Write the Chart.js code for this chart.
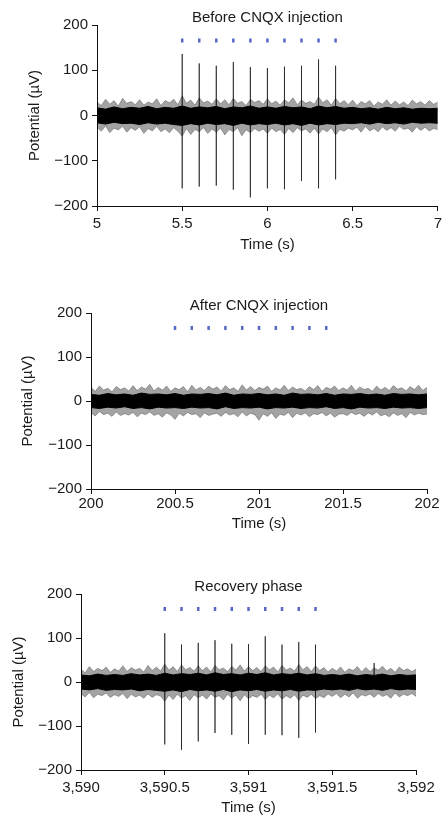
<!DOCTYPE html>
<html>
<head>
<meta charset="utf-8">
<script src="https://cdn.jsdelivr.net/npm/chart.js@4"></script>
<style>
  body { margin: 0; background: #fff; }
  #wrap { position: relative; width: 446px; height: 825px; background: #fff; }
  canvas { position: absolute; left: 0; }
</style>
</head>
<body>
<div id="wrap">
  <canvas id="before_chart" width="446" height="262" style="top:0px"></canvas>
  <canvas id="after_chart" width="446" height="245" style="top:290px"></canvas>
  <canvas id="recovery_chart" width="446" height="260" style="top:560px"></canvas>
</div>
<script>
// sample positions (s, from the start of each 2 s window) of the noise envelopes
var fringeOffsets = [0, 0.025, 0.05, 0.075, 0.1, 0.125, 0.15, 0.175, 0.2, 0.225, 0.25, 0.275, 0.3, 0.325, 0.35, 0.375, 0.4, 0.425, 0.45, 0.475,
                     0.5, 0.525, 0.55, 0.575, 0.6, 0.625, 0.65, 0.675, 0.7, 0.725, 0.75, 0.775, 0.8, 0.825, 0.85, 0.875, 0.9, 0.925, 0.95, 0.975,
                     1, 1.025, 1.05, 1.075, 1.1, 1.125, 1.15, 1.175, 1.2, 1.225, 1.25, 1.275, 1.3, 1.325, 1.35, 1.375, 1.4, 1.425, 1.45, 1.475,
                     1.5, 1.525, 1.55, 1.575, 1.6, 1.625, 1.65, 1.675, 1.7, 1.725, 1.75, 1.775, 1.8, 1.825, 1.85, 1.875, 1.9, 1.925, 1.95, 1.975, 2];
var coreOffsets = [0, 0.05, 0.1, 0.15, 0.2, 0.25, 0.3, 0.35, 0.4, 0.45, 0.5, 0.55, 0.6, 0.65, 0.7, 0.75, 0.8, 0.85, 0.9, 0.95,
                   1, 1.05, 1.1, 1.15, 1.2, 1.25, 1.3, 1.35, 1.4, 1.45, 1.5, 1.55, 1.6, 1.65, 1.7, 1.75, 1.8, 1.85, 1.9, 1.95, 2];

var yTicks = [-200, -100, 0, 100, 200];

// --- Before CNQX injection ---
var startBefore = 5;
var fringeHiBefore = [30, 22, 36, 25, 33, 21, 38, 27, 31, 24,
                      35, 23, 30, 26, 37, 22, 33, 28, 36, 24,
                      44, 27, 34, 23, 39, 28, 32, 25, 37, 26,
                      35, 24, 38, 27, 31, 22, 36, 29, 33, 25,
                      37, 26, 32, 23, 35, 28, 39, 24, 34, 27,
                      31, 25, 41, 28, 35, 23, 38, 26, 33, 24,
                      34, 22, 31, 26, 33, 21, 30, 25, 35, 23,
                      32, 24, 30, 22, 34, 26, 31, 23, 33, 25, 30];
var fringeLoBefore = [-26, -35, -23, -38, -28, -32, -24, -37, -27, -33,
                      -25, -40, -29, -34, -24, -36, -30, -38, -27, -35,
                      -46, -29, -42, -31, -36, -27, -40, -30, -37, -28,
                      -43, -31, -36, -27, -45, -32, -38, -29, -35, -30,
                      -40, -28, -36, -31, -42, -29, -38, -27, -34, -30,
                      -39, -28, -41, -30, -36, -27, -43, -31, -35, -28,
                      -32, -26, -37, -24, -34, -29, -36, -25, -33, -27,
                      -35, -24, -31, -28, -37, -25, -33, -26, -34, -29, -31];
var coreHiBefore = [17, 14, 19, 15, 18, 16, 20, 15, 18, 16, 21, 16, 19, 17, 20, 15, 19, 17, 21, 16,
                    19, 16, 20, 17, 19, 15, 21, 17, 20, 16, 18, 15, 17, 14, 18, 15, 17, 14, 16, 15, 16];
var coreLoBefore = [-16, -19, -15, -18, -17, -20, -16, -19, -17, -20, -22, -18, -21, -17, -20, -18, -22, -17, -21, -18,
                    -20, -17, -21, -18, -22, -17, -21, -18, -20, -17, -18, -16, -19, -15, -18, -16, -19, -15, -17, -16, -17];
var spikeTimesBefore = [5.5, 5.6, 5.7, 5.8, 5.9, 6.0, 6.1, 6.2, 6.3, 6.4];
var spikeTopBefore = [136, 115, 110, 118, 107, 105, 108, 110, 124, 110];
var spikeBottomBefore = [-161, -157, -155, -164, -181, -161, -163, -145, -161, -141];
var stimTimesBefore = [5.5, 5.6, 5.7, 5.8, 5.9, 6.0, 6.1, 6.2, 6.3, 6.4];

// --- After CNQX injection ---
var startAfter = 200;
var fringeHiAfter = [31, 22, 34, 25, 29, 21, 33, 26, 30, 23,
                     35, 24, 32, 27, 38, 23, 31, 25, 34, 22,
                     30, 26, 33, 21, 36, 25, 31, 24, 34, 27,
                     32, 23, 35, 26, 30, 22, 37, 25, 33, 24,
                     31, 27, 34, 22, 30, 25, 36, 24, 32, 26,
                     29, 23, 33, 26, 35, 22, 31, 27, 34, 24,
                     30, 25, 36, 23, 32, 26, 29, 22, 34, 25,
                     31, 24, 35, 27, 30, 23, 33, 26, 36, 24, 31];
var fringeLoAfter = [-27, -34, -24, -31, -28, -35, -25, -33, -29, -32,
                     -26, -36, -28, -31, -25, -33, -29, -37, -27, -32,
                     -42, -28, -34, -26, -31, -29, -38, -27, -33, -30,
                     -28, -35, -26, -32, -29, -36, -25, -34, -28, -31,
                     -44, -29, -35, -27, -40, -30, -33, -26, -38, -28,
                     -32, -27, -36, -29, -31, -26, -34, -28, -37, -30,
                     -29, -33, -26, -31, -28, -35, -27, -32, -25, -34,
                     -30, -36, -27, -33, -29, -38, -26, -32, -28, -31, -30];
var coreHiAfter = [15, 13, 17, 14, 16, 13, 18, 15, 16, 14, 17, 13, 16, 15, 17, 14, 18, 13, 16, 15,
                   17, 14, 16, 13, 18, 15, 16, 14, 17, 13, 16, 15, 17, 14, 16, 13, 17, 15, 16, 14, 16];
var coreLoAfter = [-15, -17, -14, -16, -13, -17, -15, -18, -14, -16, -15, -17, -14, -16, -15, -18, -13, -17, -15, -16,
                   -14, -18, -15, -16, -14, -17, -15, -16, -13, -17, -15, -18, -14, -16, -15, -17, -14, -16, -15, -17, -15];
var spikeTimesAfter = [];
var spikeTopAfter = [];
var spikeBottomAfter = [];
var stimTimesAfter = [200.5, 200.6, 200.7, 200.8, 200.9, 201.0, 201.1, 201.2, 201.3, 201.4];

// --- Recovery phase ---
var startRecovery = 3590;
var fringeHiRecovery = [29, 21, 35, 24, 31, 26, 34, 22, 30, 25,
                        37, 24, 33, 27, 31, 23, 38, 26, 34, 25,
                        41, 27, 35, 24, 39, 28, 33, 25, 37, 26,
                        34, 23, 38, 28, 32, 24, 36, 27, 39, 25,
                        35, 26, 33, 24, 37, 28, 34, 23, 38, 27,
                        32, 25, 40, 28, 35, 24, 37, 26, 33, 23,
                        31, 25, 34, 22, 30, 26, 35, 23, 33, 24,
                        32, 27, 36, 25, 31, 22, 34, 26, 30, 24, 29];
var fringeLoRecovery = [-27, -34, -24, -36, -28, -31, -25, -35, -29, -33,
                        -26, -38, -28, -34, -30, -37, -27, -35, -29, -32,
                        -44, -30, -40, -28, -37, -31, -42, -29, -36, -30,
                        -39, -27, -35, -31, -41, -28, -37, -30, -43, -29,
                        -38, -31, -35, -28, -40, -30, -36, -27, -39, -31,
                        -37, -29, -42, -30, -35, -28, -38, -31, -36, -27,
                        -33, -26, -36, -28, -34, -25, -37, -29, -32, -27,
                        -35, -26, -33, -29, -37, -25, -34, -28, -31, -26, -33];
var coreHiRecovery = [16, 14, 18, 15, 17, 15, 19, 16, 18, 15, 20, 16, 19, 17, 20, 16, 21, 17, 19, 16,
                      20, 17, 21, 16, 19, 17, 20, 16, 19, 15, 17, 15, 18, 14, 17, 15, 18, 14, 17, 15, 16];
var coreLoRecovery = [-16, -18, -15, -19, -17, -18, -16, -20, -17, -19, -21, -18, -22, -17, -20, -18, -21, -17, -22, -18,
                      -20, -17, -21, -18, -20, -17, -21, -18, -19, -16, -18, -16, -19, -15, -18, -16, -19, -15, -18, -16, -17];
var spikeTimesRecovery = [3590.5, 3590.6, 3590.7, 3590.8, 3590.9, 3591.0, 3591.1, 3591.2, 3591.3, 3591.4, 3591.75];
var spikeTopRecovery = [111, 85, 89, 95, 87, 86, 104, 85, 91, 85, 43];
var spikeBottomRecovery = [-142, -154, -135, -116, -120, -141, -120, -121, -127, -115, -12];
var stimTimesRecovery = [3590.5, 3590.6, 3590.7, 3590.8, 3590.9, 3591.0, 3591.1, 3591.2, 3591.3, 3591.4];

var stimLevel = 166;

Chart.defaults.font.family = "'Liberation Sans', Arial, Helvetica, sans-serif";
Chart.defaults.font.size = 15;
Chart.defaults.color = '#1a1a1a';

var panelTitle = {
    id: 'panelTitle',
    afterDraw: function(chart, args, opts) {
        var ctx = chart.ctx;
        var area = chart.chartArea;
        ctx.save();
        ctx.font = "15px 'Liberation Sans', Arial, Helvetica, sans-serif";
        ctx.fillStyle = '#1a1a1a';
        ctx.textAlign = 'center';
        ctx.textBaseline = 'middle';
        ctx.fillText(opts.text, (area.left + area.right) / 2, area.top - opts.gap);
        ctx.restore();
    }
};

function toPoints(start, offsets, values) {
    return values.map(function(v, i) { return {x: start + offsets[i], y: v}; });
}

function spikePoints(times, tops, bottoms) {
    var pts = [];
    for (var i = 0; i < times.length; i++) {
        pts.push({x: times[i], y: tops[i]});
        pts.push({x: times[i], y: bottoms[i]});
        pts.push({x: times[i], y: null});
    }
    return pts;
}

function fmtY(v) {
    return v < 0 ? '\u2212' + (-v) : String(v);
}

function makePanel(id, p) {
    var ctx = document.getElementById(id).getContext('2d');
    return new Chart(ctx, {
        type: 'line',
        data: {
            datasets: [{
                label: 'stimulus',
                data: p.stim.map(function(t) { return {x: t, y: stimLevel}; }),
                showLine: false,
                pointStyle: 'line',
                rotation: 90,
                pointRadius: 2,
                pointBorderWidth: 2.5,
                pointBorderColor: '#5566c4',
                borderColor: '#5566c4'
            }, {
                label: 'spikes',
                data: spikePoints(p.spikeTimes, p.spikeTop, p.spikeBottom),
                borderColor: 'rgba(0, 0, 0, 0.45)',
                borderWidth: 1,
                pointRadius: 0,
                spanGaps: false
            }, {
                label: 'core hi',
                data: toPoints(p.start, coreOffsets, p.coreHi),
                borderColor: '#000',
                borderWidth: 1,
                backgroundColor: '#000',
                pointRadius: 0,
                fill: '+1'
            }, {
                label: 'core lo',
                data: toPoints(p.start, coreOffsets, p.coreLo),
                borderColor: '#000',
                borderWidth: 1,
                pointRadius: 0,
                fill: false
            }, {
                label: 'fringe hi',
                data: toPoints(p.start, fringeOffsets, p.fringeHi),
                borderColor: 'rgba(0, 0, 0, 0.28)',
                borderWidth: 1,
                backgroundColor: 'rgba(0, 0, 0, 0.36)',
                pointRadius: 0,
                fill: '+1'
            }, {
                label: 'fringe lo',
                data: toPoints(p.start, fringeOffsets, p.fringeLo),
                borderColor: 'rgba(0, 0, 0, 0.28)',
                borderWidth: 1,
                pointRadius: 0,
                fill: false
            }]
        },
        options: {
            responsive: false,
            animation: false,
            devicePixelRatio: 1,
            layout: { padding: { top: p.padTop, right: p.padRight, left: 0, bottom: 0 } },
            plugins: {
                legend: { display: false },
                tooltip: { enabled: false },
                panelTitle: { text: p.title, gap: 7 }
            },
            scales: {
                x: {
                    type: 'linear',
                    min: p.start,
                    max: p.start + 2,
                    afterFit: function(scale) { scale.height = p.xHeight; },
                    ticks: {
                        stepSize: 0.5,
                        padding: p.xTickPad,
                        maxRotation: 0,
                        color: '#1a1a1a',
                        callback: function(v) { return Number(v).toLocaleString('en-US'); }
                    },
                    grid: { drawOnChartArea: false, drawTicks: true, tickLength: 5, color: '#111' },
                    border: { display: true, color: '#111', width: 1 },
                    title: { display: true, text: 'Time (s)', color: '#1a1a1a', padding: { top: 0, bottom: p.xTitlePad } }
                },
                y: {
                    min: -200,
                    max: 200,
                    afterFit: function(scale) { scale.width = p.yWidth; },
                    afterBuildTicks: function(scale) { scale.ticks = yTicks.map(function(v) { return {value: v}; }); },
                    ticks: { padding: 4, color: '#1a1a1a', callback: fmtY },
                    grid: { drawOnChartArea: false, drawTicks: true, tickLength: 5, color: '#111' },
                    border: { display: true, color: '#111', width: 1 },
                    title: { display: true, text: 'Potential (\u00B5V)', color: '#1a1a1a', padding: { top: p.yTitlePad, bottom: 0 } }
                }
            }
        },
        plugins: [panelTitle]
    });
}

var before_chart = makePanel('before_chart', {
    title: 'Before CNQX injection', start: startBefore,
    fringeHi: fringeHiBefore, fringeLo: fringeLoBefore, coreHi: coreHiBefore, coreLo: coreLoBefore,
    spikeTimes: spikeTimesBefore, spikeTop: spikeTopBefore, spikeBottom: spikeBottomBefore, stim: stimTimesBefore,
    padTop: 25, padRight: 5, yWidth: 97, xHeight: 56, xTickPad: 4, xTitlePad: 8, yTitlePad: 26
});

var after_chart = makePanel('after_chart', {
    title: 'After CNQX injection', start: startAfter,
    fringeHi: fringeHiAfter, fringeLo: fringeLoAfter, coreHi: coreHiAfter, coreLo: coreLoAfter,
    spikeTimes: spikeTimesAfter, spikeTop: spikeTopAfter, spikeBottom: spikeBottomAfter, stim: stimTimesAfter,
    padTop: 23, padRight: 19, yWidth: 91, xHeight: 46, xTickPad: 1, xTitlePad: 2, yTitlePad: 19
});

var recovery_chart = makePanel('recovery_chart', {
    title: 'Recovery phase', start: startRecovery,
    fringeHi: fringeHiRecovery, fringeLo: fringeLoRecovery, coreHi: coreHiRecovery, coreLo: coreLoRecovery,
    spikeTimes: spikeTimesRecovery, spikeTop: spikeTopRecovery, spikeBottom: spikeBottomRecovery, stim: stimTimesRecovery,
    padTop: 34, padRight: 30, yWidth: 81, xHeight: 50, xTickPad: 4, xTitlePad: 3, yTitlePad: 10
});
</script>
</body>
</html>
